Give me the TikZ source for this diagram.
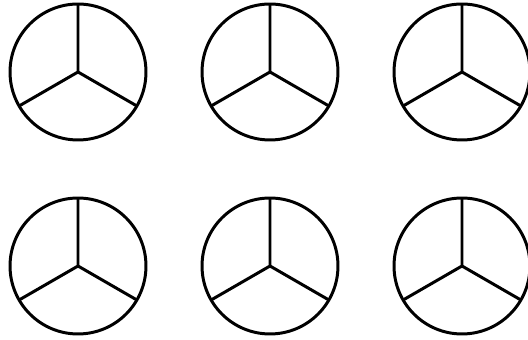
\documentclass[tikz,border=0pt]{standalone}
\usetikzlibrary{positioning}

\tikzset{
    wheel/.style={draw, circle, line width=1.7pt, minimum size=2.72cm, inner sep=0pt, outer sep=0pt},
    spoke/.style={line width=1.7pt}
}

\begin{document}
\begin{tikzpicture}[x=0.02cm, y=-0.02cm]
    \useasboundingbox (0,0) rectangle (528,340);

    % six wheels, two rows
    \foreach \col/\cx in {1/78, 2/270, 3/462} {
        \foreach \row/\cy in {1/72, 2/266} {
            \node[wheel] (w\row\col) at (\cx,\cy) {};
            \draw[spoke] (w\row\col.90) -- (w\row\col.center) -- (w\row\col.210);
            \draw[spoke] (w\row\col.center) -- (w\row\col.330);
        }
    }
\end{tikzpicture}
\end{document}
